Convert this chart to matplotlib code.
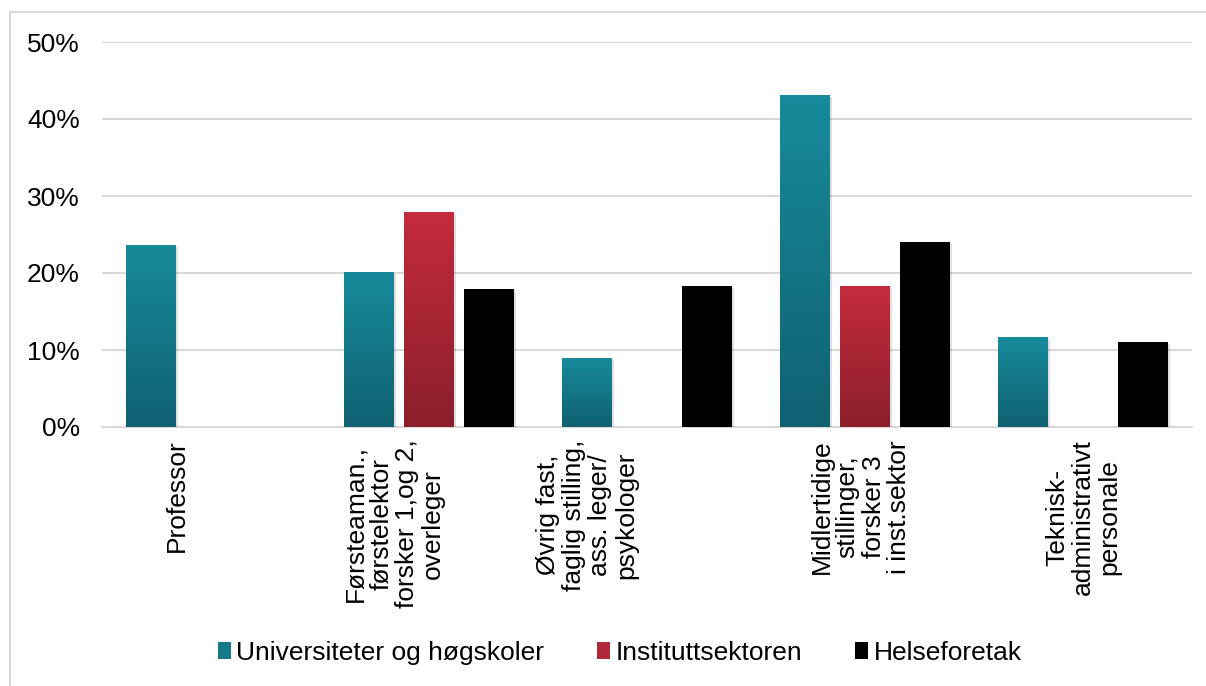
import matplotlib
matplotlib.use('Agg')
import matplotlib.pyplot as plt
import matplotlib.patheffects as pe
from matplotlib.colors import LinearSegmentedColormap
from matplotlib.patches import Patch, Rectangle
from matplotlib.ticker import PercentFormatter
import numpy as np

plt.rcParams['font.family'] = ['Liberation Sans', 'DejaVu Sans']

# data (share of respondents, percent)
categories = ['Professor',
              'Førsteaman.,\nførstelektor\nforsker 1,og 2,\noverleger',
              'Øvrig fast,\nfaglig stilling,\nass. leger/\npsykologer',
              'Midlertidige\nstillinger,\nforsker 3\ni inst.sektor',
              'Teknisk-\nadministrativt\npersonale']
series = ['Universiteter og høgskoler', 'Instituttsektoren', 'Helseforetak']
univ = [23.6, 20.1, 9.0, 43.1, 11.7]
inst = [None, 27.9, None, 18.3, None]
helse = [None, 17.9, 18.3, 24.0, 11.0]

# (top colour, bottom colour) for each series
grad = [('#178b9b', '#106171'), ('#c42b3c', '#8c1f2b'), ('#000000', '#000000')]
legend_col = ['#15798a', '#b0283a', '#000000']

fig = plt.figure(figsize=(12.06, 6.86), dpi=100)
ax = fig.add_axes([102 / 1206, 259 / 686, 1090 / 1206, 385 / 686])

# light outer frame like the original chart area
fig.patches.append(Rectangle((10 / 1206, -0.1), 1.2, 1 - 12 / 686 + 0.1,
                             transform=fig.transFigure, fill=False,
                             edgecolor='#d9d9d9', lw=1.5))

x = np.arange(len(categories))
step, width = 0.275, 0.229
shadow = [pe.SimplePatchShadow(offset=(1.5, -1.5), shadow_rgbFace='k', alpha=0.12), pe.Normal()]

for k, vals in enumerate([univ, inst, helse]):
    cmap = LinearSegmentedColormap.from_list('g%d' % k, [grad[k][1], grad[k][0]])
    for i, v in enumerate(vals):
        if v is None:
            continue
        xc = x[i] + (k - 1) * step
        bar = ax.bar(xc, v, width, color=legend_col[k], zorder=3)[0]
        bar.set_path_effects(shadow)
        img = ax.imshow(np.linspace(0, 1, 64).reshape(-1, 1), cmap=cmap,
                        origin='lower', aspect='auto', zorder=3.5,
                        extent=[xc - width / 2, xc + width / 2, 0, v])
        img.set_clip_path(bar)

ax.set_xlim(-0.5, len(categories) - 0.5)
ax.set_ylim(0, 50)
ax.yaxis.set_major_formatter(PercentFormatter(decimals=0))
ax.set_yticks(np.arange(0, 51, 10))
ax.grid(axis='y', color='#d9d9d9', lw=1.5, zorder=0)
for s in ['top', 'right', 'left']:
    ax.spines[s].set_visible(False)
ax.spines['bottom'].set_color('#d9d9d9')
ax.spines['bottom'].set_linewidth(1.5)
ax.tick_params(axis='both', length=0, labelsize=19, colors='black')
ax.tick_params(axis='y', pad=16)
ax.tick_params(axis='x', pad=9)

# label nudges (in group widths) to follow the original placement
shift = [-0.156, -0.16, -0.275, -0.02, 0.0]
ax.set_xticks(x + np.array(shift))
ax.set_xticklabels(categories, rotation=90, ha='center', va='top',
                   multialignment='center', linespacing=1.1)

handles = [Patch(facecolor=c, edgecolor='none') for c in legend_col]
fig.legend(handles, series, loc='center', bbox_to_anchor=(0.514, 0.048),
           ncol=3, frameon=False, fontsize=19, handlelength=0.5,
           handleheight=0.6, handletextpad=0.2, columnspacing=2.0)

fig.savefig('out.png', dpi=100)
